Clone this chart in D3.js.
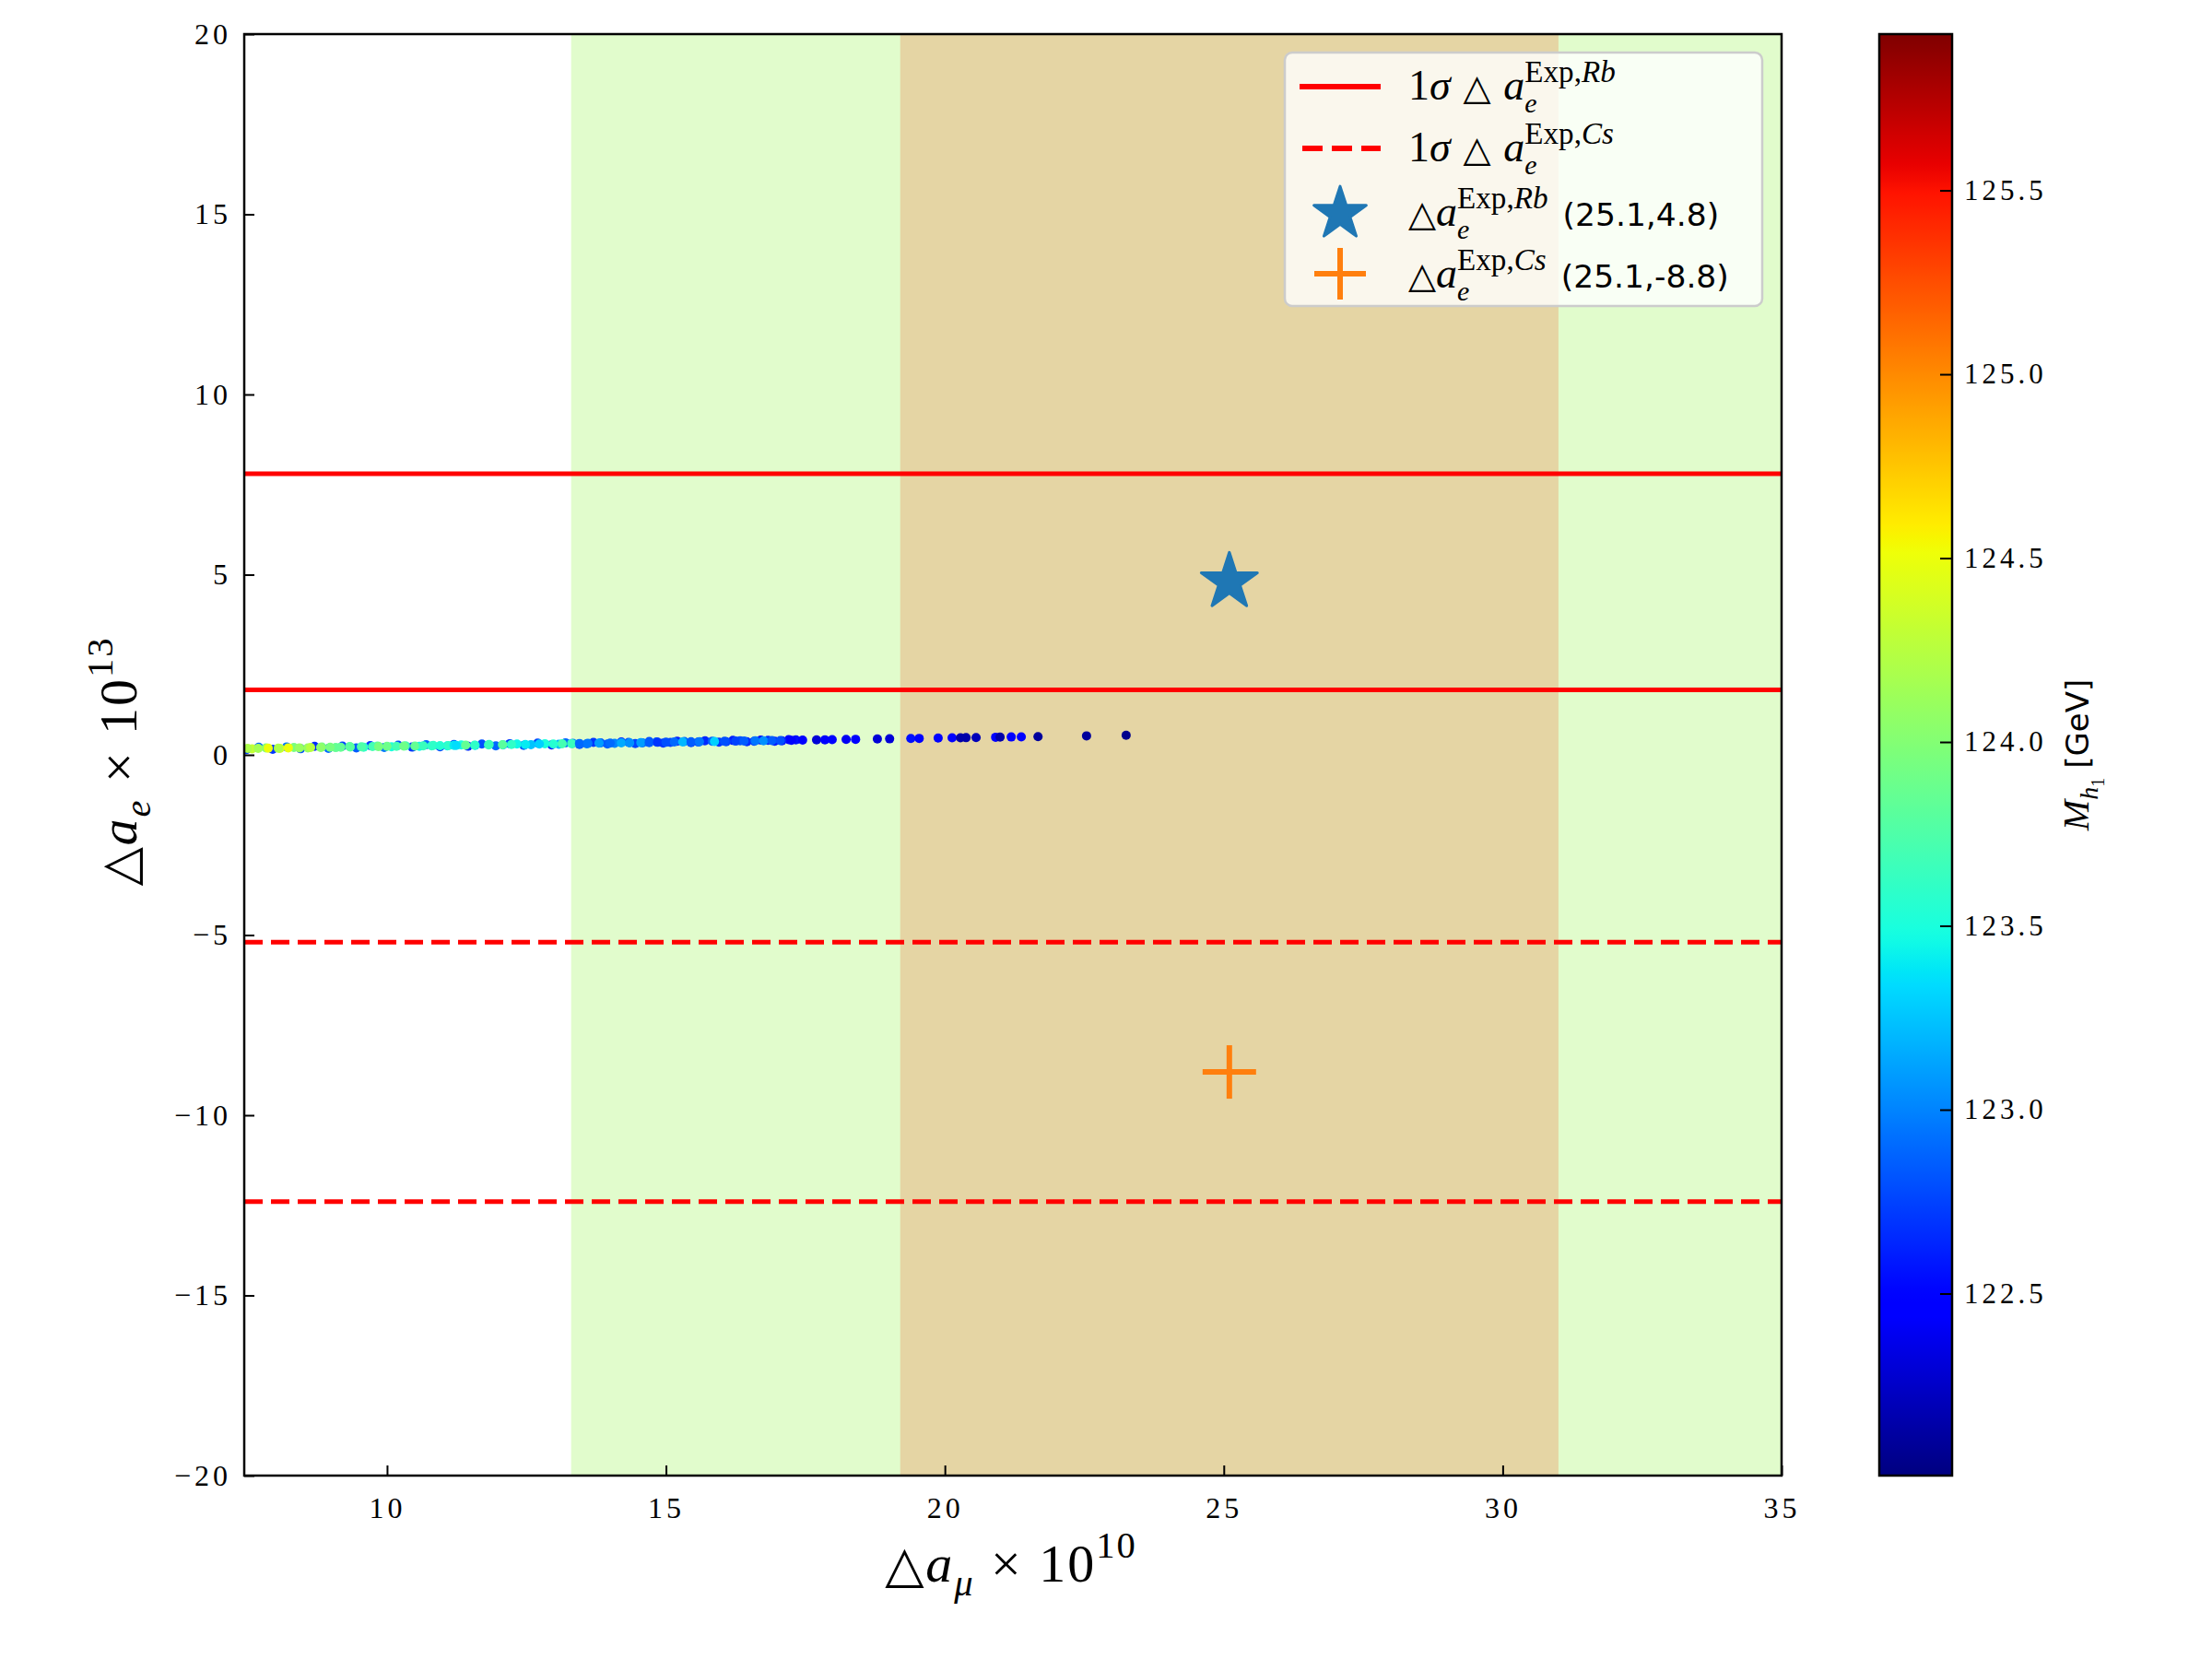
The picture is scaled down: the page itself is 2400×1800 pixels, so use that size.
<!DOCTYPE html>
<html><head><meta charset="utf-8">
<script src="https://cdn.jsdelivr.net/npm/d3@7/dist/d3.min.js"></script>
<style>body{margin:0;background:#fff}svg{display:block}</style>
</head><body>
<svg id="c" width="2400" height="1800"></svg>
<script>
// ---------- data ----------
const xTicks = [10, 15, 20, 25, 30, 35];
const yTicks = [-20, -15, -10, -5, 0, 5, 10, 15, 20];
const cbTicks = [122.5, 123.0, 123.5, 124.0, 124.5, 125.0, 125.5];

// bands of Δa_μ (2σ green, 1σ beige)
const bandGreen = [13.3, 36.9];
const bandBeige = [19.2, 31.0];

// horizontal 1σ limits on Δa_e
const rbLines = [7.8, 1.8];
const csLines = [-5.2, -12.4];

// experimental central values
const rbPoint = [25.1, 4.8];
const csPoint = [25.1, -8.8];

// scan points: background (broad, bluish) layer
const bgAmu = [7.48,7.7,7.95,8.2,8.45,8.7,8.95,9.2,9.45,9.7,9.95,10.2,10.45,10.7,10.95,11.2,11.45,11.7,11.95,12.2,12.45,12.7,12.95,13.2,13.45,13.7,13.95,14.2,14.45,14.7,14.95,15.2,15.45,15.7,15.95,16.2,16.45,16.7,16.95,17.2];
const bgAe  = [0.145,0.21,0.155,0.22,0.17,0.235,0.18,0.245,0.19,0.255,0.205,0.27,0.215,0.28,0.225,0.29,0.24,0.30,0.25,0.31,0.265,0.325,0.275,0.335,0.29,0.345,0.30,0.355,0.315,0.37,0.325,0.38,0.34,0.39,0.35,0.40,0.365,0.41,0.38,0.42];
const bgMh  = [122.75,122.9,122.7,122.95,122.8,122.65,122.9,122.75,122.85,122.7,122.95,122.8,122.7,122.9,122.75,122.85,122.65,122.8,122.9,122.7,122.85,122.75,122.6,122.9,122.8,122.7,122.85,122.65,122.75,122.8,122.7,122.6,122.75,122.65,122.7,122.6,122.65,122.55,122.6,122.5];

// scan points: middle layer
const midAmu = [7.58,7.83,8.08,8.33,8.58,8.83,9.08,9.33,9.58,9.83,10.08,10.33,10.58,10.83,11.08,11.33,11.58,11.83,12.08,12.33,12.58,12.83,13.08,13.33,13.58,13.83,14.08,14.33,14.58,14.83,15.08,15.33,15.58,15.83,16.08,16.33,16.58,16.83,17.08,17.33];
const midAe  = [0.167,0.193,0.179,0.205,0.191,0.217,0.202,0.228,0.214,0.240,0.226,0.252,0.238,0.263,0.249,0.275,0.261,0.287,0.273,0.299,0.284,0.310,0.296,0.322,0.308,0.334,0.320,0.345,0.331,0.357,0.343,0.369,0.355,0.380,0.366,0.392,0.378,0.404,0.390,0.416];
const midMh  = [124.3,124.0,124.35,123.95,124.1,123.9,123.85,123.8,123.6,123.75,123.5,123.7,123.45,123.6,123.4,123.5,123.35,123.6,123.3,123.45,123.25,123.5,123.2,123.0,122.95,122.85,123.0,122.8,122.9,122.85,122.75,122.9,122.8,122.85,122.75,122.8,122.7,122.65,122.6,122.55];

// scan points: foreground layer
const fgAmu = [7.50,7.69,7.87,8.05,8.23,8.43,8.63,8.81,8.98,9.17,9.34,9.54,9.74,9.85,10.0,10.17,10.3,10.5,10.65,10.8,10.95,11.1,11.2,11.24,11.41,11.57,11.82,12.07,12.23,12.48,12.73,12.98,13.14,13.31,13.45,13.6,13.8,14.0,14.2,14.35,14.55,14.7,14.85,15.0,15.15,15.3,15.45,15.6,15.87,16.05,16.25,16.4,16.6,16.75,16.9,17.05,17.25,17.45,17.7,17.85,17.98,18.23,18.40,18.79,19.01,19.39,19.54,19.88,20.13,20.28,20.38,20.56,20.91,20.99,21.19,21.37,21.67,22.54,23.25];
const fgAe  = [0.177,0.178,0.186,0.186,0.195,0.195,0.204,0.204,0.212,0.213,0.220,0.222,0.229,0.229,0.236,0.237,0.243,0.244,0.251,0.251,0.258,0.258,0.264,0.262,0.268,0.270,0.278,0.281,0.288,0.290,0.300,0.302,0.309,0.310,0.316,0.317,0.325,0.326,0.334,0.334,0.342,0.342,0.349,0.349,0.356,0.356,0.363,0.363,0.371,0.375,0.381,0.382,0.389,0.390,0.396,0.397,0.404,0.408,0.414,0.418,0.421,0.427,0.431,0.440,0.445,0.454,0.457,0.465,0.471,0.475,0.477,0.481,0.489,0.491,0.496,0.500,0.507,0.527,0.544];
const fgMh  = [124.2,124.15,124.5,124.2,124.5,124.1,124.25,124.05,123.95,123.85,123.8,123.75,123.7,123.95,123.9,123.7,123.9,123.85,123.65,123.6,123.55,123.6,123.4,123.35,123.85,123.6,123.65,123.8,123.6,123.4,123.3,123.55,123.7,123.65,122.9,122.95,123.1,122.9,123.15,123.05,123.1,122.85,122.7,122.8,122.9,123.2,122.85,122.95,123.3,122.8,122.75,122.85,122.95,123.05,122.85,122.8,122.5,122.45,122.3,122.45,122.5,122.4,122.45,122.3,122.3,122.55,122.5,122.45,122.5,122.15,122.15,122.2,122.5,122.15,122.5,122.5,122.1,122.1,122.05];

const cbDomain = [122.005, 125.925];

// ---------- layout ----------
const svg = d3.select("#c");
const L = 265, R = 1933, T = 37, B = 1601;
const x = d3.scaleLinear().domain([7.44, 35]).range([L, R]);
const y = d3.scaleLinear().domain([-20, 20]).range([B, T]);
const cb = d3.scaleLinear().domain(cbDomain).range([B, T]);

// matplotlib jet
function interp(pts, t){
  for(let i=1;i<pts.length;i++){ if(t<=pts[i][0]){const [a,va]=pts[i-1],[b,vb]=pts[i];return va+(vb-va)*(t-a)/(b-a);} }
  return pts[pts.length-1][1];
}
const jr=[[0,0],[0.35,0],[0.66,1],[0.89,1],[1,0.5]];
const jg=[[0,0],[0.125,0],[0.375,1],[0.64,1],[0.91,0],[1,0]];
const jb=[[0,0.5],[0.11,1],[0.34,1],[0.65,0],[1,0]];
function jet(t){t=Math.max(0,Math.min(1,t));return d3.rgb(255*interp(jr,t),255*interp(jg,t),255*interp(jb,t)).toString();}
const cnorm = d3.scaleLinear().domain(cbDomain).range([0,1]).clamp(true);
const color = v => jet(cnorm(v));

const SERIF = "'Liberation Serif','DejaVu Serif',serif";
const SANS = "'DejaVu Sans','Liberation Sans',sans-serif";
const TRI = "'DejaVu Sans',sans-serif";

// clip
svg.append("defs").append("clipPath").attr("id","clip").append("rect")
  .attr("x",L).attr("y",T).attr("width",R-L).attr("height",B-T);
const plot = svg.append("g").attr("clip-path","url(#clip)");

plot.append("rect").attr("x",x(bandGreen[0])).attr("y",T).attr("width",x(bandGreen[1])-x(bandGreen[0])).attr("height",B-T).attr("fill","#e1fccc");
plot.append("rect").attr("x",x(bandBeige[0])).attr("y",T).attr("width",x(bandBeige[1])-x(bandBeige[0])).attr("height",B-T).attr("fill","#e5d5a4");

// lines
plot.selectAll(".rb").data(rbLines).enter().append("line")
  .attr("x1",L).attr("x2",R).attr("y1",d=>y(d)).attr("y2",d=>y(d))
  .attr("stroke","#ff0000").attr("stroke-width",5);
plot.selectAll(".cs").data(csLines).enter().append("line")
  .attr("x1",L).attr("x2",R).attr("y1",d=>y(d)).attr("y2",d=>y(d))
  .attr("stroke","#ff0000").attr("stroke-width",5).attr("stroke-dasharray","20,9");

// scatter
const mk = (A,E,M) => A.map((v,i)=>({a:v,e:E[i],m:M[i]}));
const pts = mk(bgAmu,bgAe,bgMh).concat(mk(midAmu,midAe,midMh)).concat(mk(fgAmu,fgAe,fgMh));
plot.selectAll(".pt").data(pts).enter().append("circle")
  .attr("cx",d=>x(d.a)).attr("cy",d=>y(d.e)).attr("r",5)
  .attr("fill",d=>color(d.m));

// star & plus
const star = d3.symbol().type(d3.symbolStar).size(1150);
plot.append("path").attr("d",star()).attr("transform",`translate(${x(rbPoint[0])},${y(rbPoint[1])})`)
  .attr("fill","#1f77b4").attr("stroke","#1f77b4").attr("stroke-width",3).attr("stroke-linejoin","round");
function plus(g,cx,cy,h){
  g.append("line").attr("x1",cx-h).attr("x2",cx+h).attr("y1",cy).attr("y2",cy).attr("stroke","#ff7f0e").attr("stroke-width",6);
  g.append("line").attr("x1",cx).attr("x2",cx).attr("y1",cy-h).attr("y2",cy+h).attr("stroke","#ff7f0e").attr("stroke-width",6);
}
plus(plot,x(csPoint[0]),y(csPoint[1]),29);

// axes
const tickLen = 11;
const ax = svg.append("g");
ax.append("rect").attr("x",L).attr("y",T).attr("width",R-L).attr("height",B-T).attr("fill","none").attr("stroke","#000").attr("stroke-width",2.5);
const xa = d3.axisBottom(x).tickValues(xTicks).tickSize(-tickLen).tickPadding(tickLen+12).tickFormat(d3.format("d"));
const gx = ax.append("g").attr("transform",`translate(0,${B})`).call(xa);
const ya = d3.axisLeft(y).tickValues(yTicks).tickSize(-tickLen).tickPadding(14).tickFormat(d=>d<0?"\u2212"+Math.abs(d):d);
const gy = ax.append("g").attr("transform",`translate(${L},0)`).call(ya);
[gx,gy].forEach(g=>{
  g.select(".domain").remove();
  g.selectAll(".tick line").attr("stroke","#000").attr("stroke-width",2);
  g.selectAll(".tick text").attr("font-family",SERIF).attr("font-size",32).attr("fill","#000").attr("letter-spacing",4);
});

// math helper: one <text> element, one <tspan> per piece
function mathText(g, x0, y0, fs, items, anchor, ls){
  const grp = g.append("g");
  const txt = grp.append("text").attr("fill","#000");
  let cx = 0, lastStart = 0, maxEnd = 0;
  items.forEach(it=>{
    const s = (it.sc||1)*fs;
    let startX = it.stack ? lastStart : cx;
    const t = txt.append("tspan").attr("x",startX).attr("y",(it.dy||0)*fs)
      .attr("font-family",it.f||SERIF).attr("font-size",s)
      .attr("font-style",it.it?"italic":"normal").text(it.t);
    if(ls && !it.f) t.attr("letter-spacing",ls);
    const w = t.node().getComputedTextLength();
    if(!it.stack) lastStart = startX;
    const end = startX + w + (it.gap||0)*fs;
    maxEnd = Math.max(maxEnd,end);
    cx = it.stack ? maxEnd : end;
  });
  let off = 0;
  if(anchor==="middle") off = -maxEnd/2;
  grp.attr("transform",`translate(${x0+off},${y0})`);
  return grp;
}

// axis labels
mathText(svg, 1097, 1716, 58, [
  {t:"\u25B3",sc:0.95,f:TRI,gap:0.03},
  {t:"a",it:true},
  {t:"\u03BC",it:true,sc:0.7,dy:0.25,gap:0.3},
  {t:"\u00D7",gap:0.3},
  {t:"10"},
  {t:"10",sc:0.7,dy:-0.45}
],"middle",2);
const ylab = svg.append("g").attr("transform","translate(148,826) rotate(-90)");
mathText(ylab, 0, 0, 58, [
  {t:"\u25B3",sc:0.95,f:TRI,gap:0.03},
  {t:"a",it:true},
  {t:"e",it:true,sc:0.7,dy:0.25,gap:0.3},
  {t:"\u00D7",gap:0.3},
  {t:"10"},
  {t:"13",sc:0.7,dy:-0.45}
],"middle",2);

// colorbar
const CL = 2039, CR = 2118;
const grad = svg.select("defs").append("linearGradient").attr("id","jetg").attr("x1",0).attr("y1",1).attr("x2",0).attr("y2",0);
d3.range(0,1.0001,0.01).forEach(t=>grad.append("stop").attr("offset",t).attr("stop-color",jet(t)));
svg.append("rect").attr("x",CL).attr("y",T).attr("width",CR-CL).attr("height",B-T).attr("fill","url(#jetg)").attr("stroke","#000").attr("stroke-width",2.5);
const ca = d3.axisRight(cb).tickValues(cbTicks).tickSize(-13).tickPadding(13).tickFormat(d3.format(".1f"));
const gc = svg.append("g").attr("transform",`translate(${CR},0)`).call(ca);
gc.select(".domain").remove();
gc.selectAll(".tick line").attr("stroke","#000").attr("stroke-width",2);
gc.selectAll(".tick text").attr("font-family",SERIF).attr("font-size",31).attr("fill","#000").attr("letter-spacing",4);
const clab = svg.append("g").attr("transform","translate(2266,819) rotate(-90)");
mathText(clab, 0, 0, 40, [
  {t:"M",it:true},
  {t:"h",it:true,sc:0.7,dy:0.25},
  {t:"1",sc:0.5,dy:0.42,gap:0.25},
  {t:"[GeV]",f:SANS,sc:0.85}
],"middle");

// legend
const lg = svg.append("g");
lg.append("rect").attr("x",1394).attr("y",57).attr("width",518).attr("height",275).attr("rx",8)
  .attr("fill","#ffffff").attr("fill-opacity",0.8).attr("stroke","#cccccc").attr("stroke-width",2.5);
const rows = [94,161,230,297];
lg.append("line").attr("x1",1410).attr("x2",1498).attr("y1",rows[0]).attr("y2",rows[0]).attr("stroke","#ff0000").attr("stroke-width",6);
lg.append("line").attr("x1",1410).attr("x2",1498).attr("y1",rows[1]).attr("y2",rows[1]).attr("stroke","#ff0000").attr("stroke-width",6).attr("stroke-dasharray","22,10").attr("stroke-dashoffset",-3);
lg.append("path").attr("d",d3.symbol().type(d3.symbolStar).size(1000)()).attr("transform",`translate(1454,${rows[2]+2})`)
  .attr("fill","#1f77b4").attr("stroke","#1f77b4").attr("stroke-width",3).attr("stroke-linejoin","round");
plus(lg,1454,rows[3],28);
const FS = 46, tx = 1528;
mathText(lg, tx, rows[0]+14, FS, [
  {t:"1",gap:0},{t:"\u03C3",it:true,gap:0.3},{t:"\u25B3",f:TRI,sc:0.85,gap:0.3},{t:"a",it:true},
  {t:"e",it:true,sc:0.65,dy:0.3},{t:"Exp,",sc:0.72,dy:-0.42,stack:true},{t:"Rb",it:true,sc:0.72,dy:-0.42}
]);
mathText(lg, tx, rows[1]+14, FS, [
  {t:"1",gap:0},{t:"\u03C3",it:true,gap:0.3},{t:"\u25B3",f:TRI,sc:0.85,gap:0.3},{t:"a",it:true},
  {t:"e",it:true,sc:0.65,dy:0.3},{t:"Exp,",sc:0.72,dy:-0.42,stack:true},{t:"Cs",it:true,sc:0.72,dy:-0.42}
]);
mathText(lg, tx, rows[2]+15, FS, [
  {t:"\u25B3",f:TRI,sc:0.85,gap:0.0},{t:"a",it:true},
  {t:"e",it:true,sc:0.65,dy:0.3},{t:"Exp,",sc:0.72,dy:-0.42,stack:true},{t:"Rb",it:true,sc:0.72,dy:-0.42,gap:0.35},
  {t:"(25.1,4.8)",f:SANS,sc:0.75}
]);
mathText(lg, tx, rows[3]+15, FS, [
  {t:"\u25B3",f:TRI,sc:0.85,gap:0.0},{t:"a",it:true},
  {t:"e",it:true,sc:0.65,dy:0.3},{t:"Exp,",sc:0.72,dy:-0.42,stack:true},{t:"Cs",it:true,sc:0.72,dy:-0.42,gap:0.35},
  {t:"(25.1,-8.8)",f:SANS,sc:0.75}
]);
</script>
</body></html>
